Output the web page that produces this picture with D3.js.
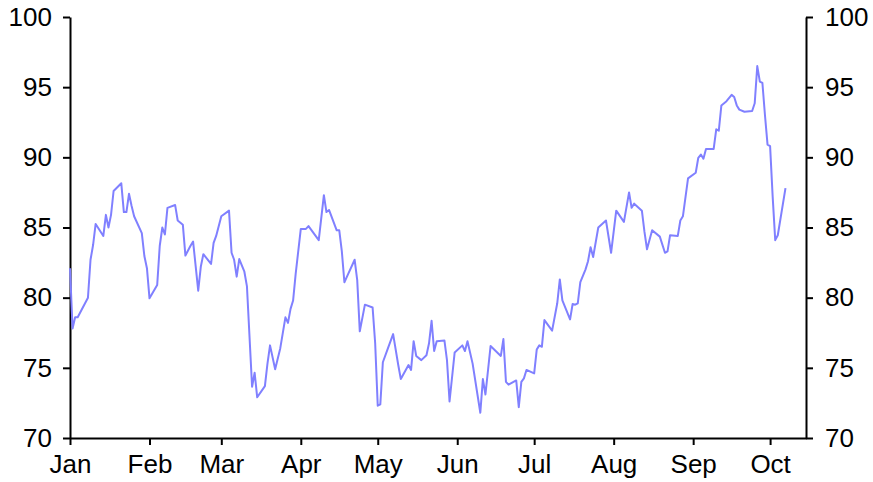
<!DOCTYPE html>
<html>
<head>
<meta charset="utf-8">
<script src="https://cdn.jsdelivr.net/npm/d3@7"></script>
<style>
  html, body { margin: 0; padding: 0; background: #fff; }
  svg { display: block; }
  .axis text { font-family: "Liberation Sans", Arial, sans-serif; font-size: 26px; fill: #000; }
  .axis path, .axis line { stroke: #000; stroke-width: 2px; }
</style>
</head>
<body>
<svg id="chart" width="873" height="482"></svg>
<script>
// ---- data ----
const dates = [
  "2023-01-01","2023-01-02","2023-01-03","2023-01-04","2023-01-08","2023-01-09","2023-01-10","2023-01-11",
  "2023-01-14","2023-01-15","2023-01-16","2023-01-17","2023-01-18","2023-01-21","2023-01-22","2023-01-23",
  "2023-01-24","2023-01-25","2023-01-26","2023-01-29","2023-01-30","2023-01-31","2023-02-01","2023-02-04",
  "2023-02-05","2023-02-06","2023-02-07","2023-02-08","2023-02-11","2023-02-12","2023-02-14","2023-02-15",
  "2023-02-17","2023-02-18","2023-02-20","2023-02-21","2023-02-22","2023-02-25","2023-02-26","2023-02-27",
  "2023-03-01","2023-03-04","2023-03-05","2023-03-06","2023-03-07","2023-03-08","2023-03-10","2023-03-11",
  "2023-03-13","2023-03-14","2023-03-15","2023-03-18","2023-03-19","2023-03-20","2023-03-22","2023-03-24",
  "2023-03-26","2023-03-27","2023-03-28","2023-03-29","2023-03-30","2023-04-01","2023-04-03","2023-04-04",
  "2023-04-08","2023-04-10","2023-04-11","2023-04-12","2023-04-15","2023-04-16","2023-04-17","2023-04-18",
  "2023-04-19","2023-04-22","2023-04-23","2023-04-24","2023-04-26","2023-04-29","2023-04-30","2023-05-01",
  "2023-05-02","2023-05-03","2023-05-05","2023-05-07","2023-05-09","2023-05-10","2023-05-13","2023-05-14",
  "2023-05-15","2023-05-16","2023-05-18","2023-05-20","2023-05-21","2023-05-22","2023-05-23","2023-05-24",
  "2023-05-27","2023-05-28","2023-05-29","2023-05-31","2023-06-03","2023-06-04","2023-06-05","2023-06-07",
  "2023-06-10","2023-06-11","2023-06-12","2023-06-14","2023-06-18","2023-06-19","2023-06-20","2023-06-21",
  "2023-06-24","2023-06-25","2023-06-26","2023-06-27","2023-06-28","2023-07-01","2023-07-02","2023-07-03",
  "2023-07-04","2023-07-05","2023-07-08","2023-07-10","2023-07-11","2023-07-12","2023-07-15","2023-07-16",
  "2023-07-17","2023-07-18","2023-07-19","2023-07-21","2023-07-22","2023-07-23","2023-07-24","2023-07-26",
  "2023-07-29","2023-07-31","2023-08-02","2023-08-05","2023-08-07","2023-08-08","2023-08-09","2023-08-12",
  "2023-08-13","2023-08-14","2023-08-16","2023-08-19","2023-08-21","2023-08-22","2023-08-23","2023-08-26",
  "2023-08-27","2023-08-28","2023-08-30","2023-09-02","2023-09-03","2023-09-04","2023-09-05","2023-09-06",
  "2023-09-09","2023-09-10","2023-09-11","2023-09-12","2023-09-14","2023-09-16","2023-09-17","2023-09-18",
  "2023-09-19","2023-09-21","2023-09-24","2023-09-25","2023-09-26","2023-09-27","2023-09-28","2023-09-29",
  "2023-09-30","2023-10-01","2023-10-02","2023-10-03","2023-10-04","2023-10-07"
];
const values = [
  82.1,77.8,78.6,78.6,80.0,82.7,83.75,85.25,
  84.4,85.9,85.0,85.9,87.6,88.15,86.1,86.1,
  87.4,86.55,85.8,84.6,82.97,82.1,79.95,80.9,
  83.7,85.0,84.5,86.4,86.6,85.5,85.2,83.0,
  83.7,84.0,80.5,82.2,83.1,82.4,83.9,84.4,
  85.8,86.2,83.2,82.7,81.5,82.75,81.85,80.8,
  73.65,74.65,72.9,73.7,75.3,76.6,74.9,76.4,
  78.6,78.2,79.2,79.8,81.7,84.9,84.9,85.1,
  84.1,87.3,86.1,86.25,84.8,84.8,83.3,81.1,
  81.5,82.7,81.25,77.6,79.5,79.3,76.75,72.3,
  72.4,75.4,76.4,77.4,75.2,74.2,75.2,74.85,
  76.9,75.85,75.55,75.9,76.75,78.35,76.2,76.9,
  76.95,75.55,72.6,76.1,76.6,76.2,76.9,75.3,
  71.8,74.2,73.1,76.55,75.85,77.05,74.0,73.8,
  74.1,72.2,74.0,74.25,74.85,74.6,76.3,76.6,
  76.5,78.4,77.65,79.6,81.3,79.8,78.45,79.55,
  79.5,79.6,81.1,82.0,82.6,83.6,82.9,85.0,
  85.5,83.2,86.2,85.4,87.5,86.4,86.7,86.2,
  84.7,83.45,84.8,84.35,83.2,83.3,84.45,84.4,
  85.5,85.8,88.5,88.9,89.97,90.2,89.9,90.6,
  90.6,92.0,91.9,93.7,94.0,94.45,94.3,93.7,
  93.4,93.25,93.3,93.85,96.5,95.4,95.3,93.0,
  90.9,90.8,87.2,84.1,84.45,87.8
];
const monthTicks = ["2023-01-01","2023-02-01","2023-03-01","2023-04-01","2023-05-01","2023-06-01",
                    "2023-07-01","2023-08-01","2023-09-01","2023-10-01"];
const monthLabels = ["Jan","Feb","Mar","Apr","May","Jun","Jul","Aug","Sep","Oct"];
const yTicks = [70, 75, 80, 85, 90, 95, 100];
const xDomain = ["2023-01-01", "2023-10-15"];
const yDomain = [70, 100];

// ---- chart ----
const parse = d3.utcParse("%Y-%m-%d");
const data = dates.map((d, i) => ({ date: parse(d), value: values[i] }));

const margin = { left: 70, right: 67, top: 17, bottom: 44 };
const W = 873, H = 482;
const svg = d3.select("#chart");

const x = d3.scaleUtc().domain(xDomain.map(parse)).range([margin.left, W - margin.right]);
const y = d3.scaleLinear().domain(yDomain).range([H - margin.bottom, margin.top]);

const tickDates = monthTicks.map(parse);
const xAxis = d3.axisBottom(x)
  .tickValues(tickDates)
  .tickFormat((d, i) => monthLabels[i])
  .tickSize(7).tickSizeOuter(0).tickPadding(10);

svg.append("g").attr("class", "axis")
  .attr("transform", `translate(0,${H - margin.bottom})`)
  .call(xAxis);

svg.append("g").attr("class", "axis")
  .attr("transform", `translate(${margin.left},0)`)
  .call(d3.axisLeft(y).tickValues(yTicks).tickFormat(d3.format("d"))
        .tickSize(7).tickSizeOuter(0).tickPadding(11));

svg.append("g").attr("class", "axis")
  .attr("transform", `translate(${W - margin.right},0)`)
  .call(d3.axisRight(y).tickValues(yTicks).tickFormat(d3.format("d"))
        .tickSize(7).tickSizeOuter(0).tickPadding(12));

const line = d3.line().x(d => x(d.date)).y(d => y(d.value));
svg.append("path")
  .datum(data)
  .attr("fill", "none")
  .attr("stroke", "#8080ff")
  .attr("stroke-width", 2)
  .attr("stroke-linejoin", "round")
  .attr("d", line);
</script>
</body>
</html>
